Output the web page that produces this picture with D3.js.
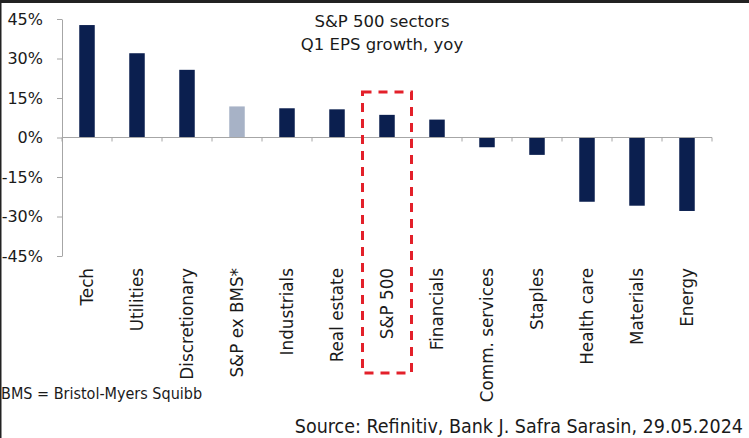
<!DOCTYPE html>
<html>
<head>
<meta charset="utf-8">
<script src="https://cdn.jsdelivr.net/npm/d3@7"></script>
<style>
  html, body { margin: 0; padding: 0; background: #fff; }
  svg { display: block; }
  .lbl { font-family: "DejaVu Sans", Verdana, sans-serif; fill: #1a1a1a; }
  .narrow { font-family: "Liberation Sans Narrow", "DejaVu Sans Condensed", "Arial Narrow", sans-serif; fill: #1a1a1a; }
</style>
</head>
<body>
<svg id="chart" width="749" height="438"></svg>
<script>
const categories = ["Tech", "Utilities", "Discretionary", "S&P ex BMS*", "Industrials", "Real estate", "S&P 500", "Financials", "Comm. services", "Staples", "Health care", "Materials", "Energy"];
const values = [42.7, 32.0, 25.7, 11.8, 11.1, 10.7, 8.6, 6.8, -3.7, -6.6, -24.4, -25.9, -27.9];
const highlight = ["S&P ex BMS*"];
const boxed = "S&P 500";
const yTicks = [-45, -30, -15, 0, 15, 30, 45];
const titleLines = ["S&P 500 sectors", "Q1 EPS growth, yoy"];
const footnote = "BMS = Bristol-Myers Squibb";
const source = "Source: Refinitiv, Bank J. Safra Sarasin, 29.05.2024";

const svg = d3.select("#chart");
const W = 749, H = 438;
svg.append("rect").attr("width", W).attr("height", H).attr("fill", "#fff");

const x = d3.scaleBand().domain(categories).range([62, 712]).padding(0);
const y = d3.scaleLinear().domain([-45, 45]).range([256, 19]);
const barW = x.bandwidth() * 0.31;
const axisColor = "#a6a6a6";

// Title
svg.append("g").selectAll("text").data(titleLines).join("text")
  .attr("class", "lbl")
  .attr("x", 382).attr("y", (d, i) => 27 + i * 23)
  .attr("text-anchor", "middle")
  .attr("font-size", 16.5)
  .text(d => d);

// Y axis
const yAxis = svg.append("g").attr("transform", "translate(62,0)")
  .call(d3.axisLeft(y).tickValues(yTicks).tickFormat(d => d + "%").tickSize(5).tickSizeOuter(0).tickPadding(14));
yAxis.selectAll("path, line").attr("stroke", axisColor);
yAxis.selectAll("text").attr("class", "lbl").attr("font-size", 16).attr("fill", "#1a1a1a")
  .attr("font-family", "DejaVu Sans, sans-serif");

// Bars
svg.append("g").selectAll("rect").data(categories).join("rect")
  .attr("x", (d) => x(d) + (x.bandwidth() - barW) / 2)
  .attr("y", (d, i) => y(Math.max(0, values[i])))
  .attr("width", barW)
  .attr("height", (d, i) => Math.abs(y(values[i]) - y(0)))
  .attr("fill", d => highlight.includes(d) ? "#a7b2c6" : "#0b1f4f");

// X axis line and boundary ticks
svg.append("line")
  .attr("x1", x.range()[0]).attr("x2", x.range()[1])
  .attr("y1", y(0)).attr("y2", y(0))
  .attr("stroke", axisColor);
const bounds = categories.map(c => x(c)).concat([x.range()[1]]);
svg.append("g").selectAll("line").data(bounds).join("line")
  .attr("x1", d => d).attr("x2", d => d)
  .attr("y1", y(0)).attr("y2", y(0) + 4)
  .attr("stroke", axisColor);

// Category labels (rotated)
svg.append("g").selectAll("text").data(categories).join("text")
  .attr("class", "lbl")
  .attr("font-size", 16.8)
  .attr("text-anchor", "end")
  .attr("transform", d => `translate(${x(d) + x.bandwidth() / 2 + 6},268) rotate(-90)`)
  .text(d => d);

// Dashed red box around S&P 500
svg.append("rect")
  .attr("x", x(boxed) + 0.5).attr("y", 92)
  .attr("width", x.bandwidth() - 1).attr("height", 373 - 92)
  .attr("fill", "none")
  .attr("stroke", "#e3202a")
  .attr("stroke-width", 3)
  .attr("stroke-dasharray", "9,7");

// Footnotes
svg.append("text").attr("class", "narrow")
  .attr("x", 1).attr("y", 399).attr("font-size", 16)
  .text(footnote);
svg.append("text").attr("class", "narrow")
  .attr("x", 743).attr("y", 433).attr("font-size", 19.5)
  .attr("text-anchor", "end")
  .text(source);

// Frame edges (dark border at top and left)
svg.append("rect").attr("x", 0).attr("y", 0).attr("width", W).attr("height", 3).attr("fill", "#222");
svg.append("rect").attr("x", 0).attr("y", 0).attr("width", 1.5).attr("height", H).attr("fill", "#222");
</script>
</body>
</html>
